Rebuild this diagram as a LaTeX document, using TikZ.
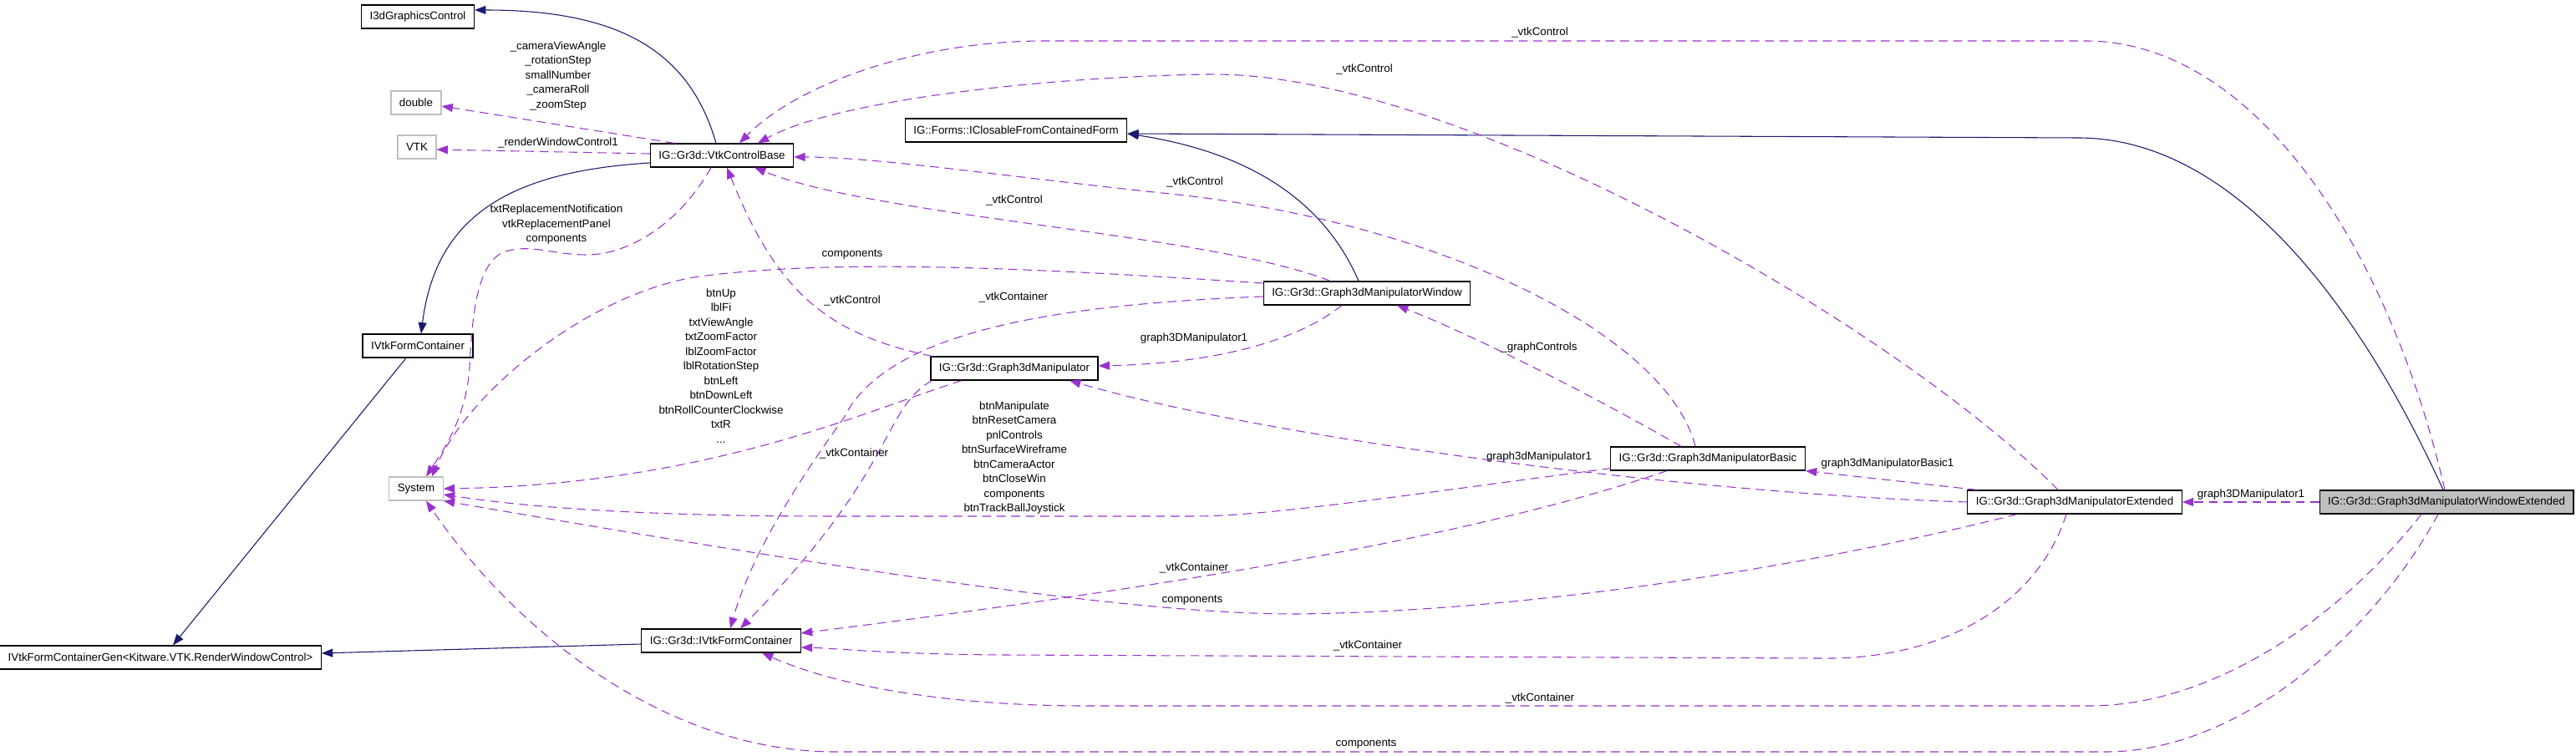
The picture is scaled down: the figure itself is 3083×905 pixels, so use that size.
\documentclass[tikz,border=0pt]{standalone}
\usepackage{fontspec}
\setmainfont{Liberation Sans}
\usetikzlibrary{positioning, arrows.meta}

\definecolor{inhblue}{HTML}{191970}
\definecolor{usepurple}{HTML}{9A32CD}
\definecolor{extgray}{HTML}{BFBFBF}

\begin{document}
\begin{tikzpicture}[
  x=0.75pt, y=-0.75pt,
  every node/.style={font=\fontsize{10pt}{13.1pt}\selectfont},
  cls/.style={draw=black, line width=0.9pt, minimum height=21pt, inner xsep=7.5pt, inner ysep=0pt},
  extcls/.style={draw=extgray, line width=0.9pt, minimum height=21pt, inner xsep=7.5pt, inner ysep=0pt},
  inherit/.style={-{Triangle[length=10pt, width=7.5pt]}, draw=inhblue, line width=0.8pt},
  uses/.style={-{Triangle[length=10pt, width=7.5pt]}, draw=usepurple, line width=0.8pt, dash pattern=on 8pt off 5pt},
  mlabel/.style={align=center, inner sep=0pt}
]
\useasboundingbox (0,0) rectangle (3083,905);

% --- Nodes ---
\node[cls] (gfxctl) at (500,20) {I3dGraphicsControl};
\node[extcls] (dbl) at (498,123) {double};
\node[extcls] (vtk) at (499,176) {VTK};
\node[cls] (ctlbase) at (864,186) {IG::Gr3d::VtkControlBase};
\node[cls] (formcont) at (500,414) {IVtkFormContainer};
\node[extcls] (sys) at (498,585) {System};
\node[cls] (contgen) at (192,787) {IVtkFormContainerGen<Kitware.VTK.RenderWindowControl>};
\node[cls] (igcont) at (863,767) {IG::Gr3d::IVtkFormContainer};

\node[cls] (closable) at (1216,156) {IG::Forms::IClosableFromContainedForm};
\node[cls] (win) at (1636,351) {IG::Gr3d::Graph3dManipulatorWindow};
\node[cls] (manip) at (1214,441) {IG::Gr3d::Graph3dManipulator};

\node[cls] (basic) at (2044,549) {IG::Gr3d::Graph3dManipulatorBasic};
\node[cls] (extd) at (2483,601) {IG::Gr3d::Graph3dManipulatorExtended};
\node[cls, fill=extgray] (winext) at (2928,601) {IG::Gr3d::Graph3dManipulatorWindowExtended};

% --- Inheritance ---
\draw[inherit] ([shift={(-7,0)}]ctlbase.north) .. controls (825,60) and (740,12) .. ([shift={(0,-8)}]gfxctl.east);
\draw[inherit] ([shift={(0,9)}]ctlbase.west) .. controls (615,205) and (522,255) .. ([shift={(4,0)}]formcont.north);
\draw[inherit] ([shift={(-14,0)}]formcont.south) -- ([shift={(15,0)}]contgen.north);
\draw[inherit] ([shift={(0,4)}]igcont.west) -- ([shift={(0,-5)}]contgen.east);
\draw[inherit] ([shift={(-10,0)}]win.north) .. controls (1580,230) and (1480,180) .. ([shift={(0,4)}]closable.east);
\draw[inherit] ([shift={(-4,0)}]winext.north) .. controls (2830,380) and (2680,165) .. (2487,165) -- ([shift={(0,4)}]closable.east);

% --- Members of VtkControlBase ---
\draw[uses] ([shift={(-57,0)}]ctlbase.north) -- ([shift={(0,4)}]dbl.east);
\draw[uses] ([shift={(0,-2)}]ctlbase.west) -- ([shift={(0,3)}]vtk.east);
\draw[uses] ([shift={(-13,0)}]ctlbase.south) .. controls (815,265) and (755,305) .. (702,305)
  .. controls (660,305) and (630,290) .. (600,303) .. controls (570,320) and (565,380) .. (562,440)
  .. controls (558,500) and (530,540) .. ([shift={(12,0)}]sys.north);

\node[mlabel] (l-dbl) at (668,91) {\_cameraViewAngle\\\_rotationStep\\smallNumber\\\_cameraRoll\\\_zoomStep};
\node[mlabel] (l-vtk) at (668,171) {\_renderWindowControl1};
\node[mlabel] (l-sysbase) at (666,269) {txtReplacementNotification\\vtkReplacementPanel\\components};

% --- Uses of System ---
\draw[uses] ([shift={(0,-12)}]win.west) .. controls (1250,322) and (1000,308) .. (830,332)
  .. controls (700,355) and (560,470) .. ([shift={(19,0)}]sys.north);
\draw[uses] ([shift={(-63,0)}]manip.south) .. controls (1040,490) and (850,580) .. (sys.east);
\draw[uses] ([shift={(1,-3)}]basic.south west) .. controls (1700,590) and (1520,618) .. (1430,618) -- (1000,618)
  .. controls (800,618) and (650,610) .. ([shift={(0,7)}]sys.east);
\draw[uses] ([shift={(-69,0)}]extd.south) .. controls (2200,670) and (1850,732) .. (1550,735)
  .. controls (1350,735) and (1000,680) .. (sys.south east);
\draw[uses] ([shift={(-10,0)}]winext.south) .. controls (2840,760) and (2680,900) .. (2520,900) -- (1000,900)
  .. controls (800,900) and (620,760) .. ([shift={(12,0)}]sys.south);

\node[mlabel] (l-syswin) at (1020,305) {components};
\node[mlabel] (l-sysmanip) at (863,438) {btnUp\\lblFi\\txtViewAngle\\txtZoomFactor\\lblZoomFactor\\lblRotationStep\\btnLeft\\btnDownLeft\\btnRollCounterClockwise\\txtR\\...};
\node[mlabel] (l-sysbasic) at (1214,548) {btnManipulate\\btnResetCamera\\pnlControls\\btnSurfaceWireframe\\btnCameraActor\\btnCloseWin\\components\\btnTrackBallJoystick};
\node[mlabel] (l-sysext) at (1427,719) {components};
\node[mlabel] (l-syswinext) at (1635,891) {components};

% --- Uses of IVtkFormContainer ---
\draw[uses] ([shift={(0,4)}]win.west) .. controls (1250,365) and (1060,400) .. (1010,500)
  .. controls (960,570) and (900,660) .. ([shift={(11,0)}]igcont.north);
\draw[uses] ([shift={(2,0)}]manip.south west) .. controls (1055,490) and (1075,560) .. ([shift={(23,0)}]igcont.north);
\draw[uses] ([shift={(-49,0)}]basic.south) .. controls (1800,630) and (1500,690) .. ([shift={(0,-9)}]igcont.east);
\draw[uses] ([shift={(-10,0)}]extd.south) .. controls (2440,720) and (2330,790) .. (2180,788) -- (1200,784)
  .. controls (1060,783) and (1000,776) .. ([shift={(0,8)}]igcont.east);
\draw[uses] ([shift={(-30,0)}]winext.south) .. controls (2800,740) and (2650,845) .. (2500,845) -- (1300,845)
  .. controls (1150,845) and (1010,825) .. ([shift={(49,0)}]igcont.south);

\node[mlabel] (l-contwin) at (1213,356) {\_vtkContainer};
\node[mlabel] (l-contmanip) at (1022,543) {\_vtkContainer};
\node[mlabel] (l-contbasic) at (1429,680) {\_vtkContainer};
\node[mlabel] (l-context) at (1637,773) {\_vtkContainer};
\node[mlabel] (l-contwinext) at (1843,836) {\_vtkContainer};

% --- Manipulator links ---
\draw[uses] ([shift={(-30,0)}]win.south) .. controls (1550,410) and (1450,435) .. ([shift={(0,-3)}]manip.east);
\draw[uses] (extd.west) .. controls (2000,590) and (1500,520) .. ([shift={(66,0)}]manip.south);
\draw[uses] ([shift={(-32,0)}]basic.north) .. controls (1900,470) and (1760,400) .. ([shift={(36,0)}]win.south);
\draw[uses] ([shift={(-117,0)}]extd.north) -- (basic.south east);
\draw[uses] (winext.west) -- (extd.east);

\node[mlabel] (l-manwin) at (1429,405) {graph3DManipulator1};
\node[mlabel] (l-manext) at (1842,547) {graph3dManipulator1};
\node[mlabel] (l-graphctl) at (1842,416) {\_graphControls};
\node[mlabel] (l-basicext) at (2259,555) {graph3dManipulatorBasic1};
\node[mlabel] (l-extwinext) at (2694,592) {graph3DManipulator1};

% --- Uses of VtkControlBase ---
\draw[uses] ([shift={(-2,0)}]winext.north) .. controls (2860,300) and (2700,49) .. (2496,49) -- (1250,49)
  .. controls (1100,49) and (955,100) .. ([shift={(21,0)}]ctlbase.north);
\draw[uses] ([shift={(-20,0)}]extd.north) .. controls (2280,400) and (1750,85) .. (1446,89)
  .. controls (1250,92) and (1000,120) .. ([shift={(43,0)}]ctlbase.north);
\draw[uses] ([shift={(-15,0)}]basic.north) .. controls (1995,400) and (1720,265) .. (1400,232)
  .. controls (1200,211) and (1050,188) .. ([shift={(0,2)}]ctlbase.east);
\draw[uses] ([shift={(-44,0)}]win.north) .. controls (1450,280) and (1050,260) .. ([shift={(39,0)}]ctlbase.south);
\draw[uses] ([shift={(2,0)}]manip.north west) .. controls (990,400) and (930,350) .. ([shift={(6,0)}]ctlbase.south);

\node[mlabel] (l-ctlwinext) at (1843,39) {\_vtkControl};
\node[mlabel] (l-ctlext) at (1633,83) {\_vtkControl};
\node[mlabel] (l-ctlbasic) at (1430,218) {\_vtkControl};
\node[mlabel] (l-ctlwin) at (1214,240) {\_vtkControl};
\node[mlabel] (l-ctlmanip) at (1020,360) {\_vtkControl};

\end{tikzpicture}
\end{document}
